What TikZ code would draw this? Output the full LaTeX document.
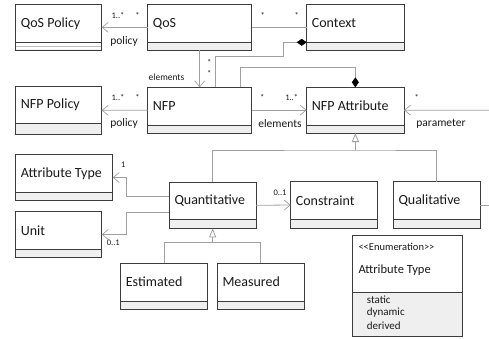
\documentclass[tikz,border=0pt]{standalone}
\usepackage{fontspec}
\setmainfont{Carlito}
\usetikzlibrary{arrows.meta,calc}
\definecolor{boxln}{HTML}{3C3C3C}
\definecolor{compfill}{HTML}{EFEFEF}
\definecolor{connc}{HTML}{A0A0A0}
\definecolor{txt}{HTML}{1A1A1A}
\tikzset{
  clsbox/.style={draw=boxln, line width=1pt, inner sep=0pt, outer sep=0pt},
  clsname/.style={font=\fontsize{14}{16}\selectfont, text=txt, inner sep=0pt, anchor=west},
  conn/.style={draw=connc, line width=0.8pt},
  navarrow/.style={conn, -{Straight Barb[length=6pt,width=10pt,line width=0.7pt]}},
  genarrow/.style={conn, -{Triangle[open,length=9pt,width=7pt,fill=white]}},
  comparrow/.style={conn, -{Diamond[length=10pt,width=7pt,color=black,fill=black]}},
  mult/.style={font=\fontsize{8.5}{10}\selectfont, text=txt, inner sep=0pt},
  role/.style={font=\fontsize{11.5}{13}\selectfont, text=txt, inner sep=0pt},
  enumtxt/.style={font=\fontsize{11}{13}\selectfont, text=txt, inner sep=0pt, anchor=west},
}
\newcommand\umlcls[7]{%
  \fill[compfill] (#2,#6) rectangle (#4,#5);
  \draw[boxln, line width=1pt] (#2,#6) -- (#4,#6);
  \node[clsbox, minimum width={(#4)-(#2)}, minimum height={(#5)-(#3)}, anchor=north west] (#1) at (#2,#3) {};
  \node[clsname] (#1-name) at ({#2+5},{(#3+#6)/2}) {#7};
}
\begin{document}
\begin{tikzpicture}[x=1pt, y=-1pt]
\useasboundingbox (0,0) rectangle (489,338);
\fill[white] (0,0) rectangle (489,338);

% classes
\umlcls{qospol}{15.7}{4.7}{101.7}{50}{42.3}{QoS Policy}
\fill[white] (16.3,42.9) rectangle (101.1,49.4);
\draw[connc!70, line width=0.8pt] (16.3,46.2) -- (101.1,46.2);
\umlcls{qos}{147.7}{4.7}{251.7}{50}{42.3}{QoS}
\umlcls{ctx}{306.7}{4.7}{404}{50}{42.3}{Context}
\umlcls{nfppol}{15.7}{86}{101.7}{134.7}{123.3}{NFP Policy}
\umlcls{nfp}{147.7}{87.3}{251.7}{133}{125}{NFP}
\umlcls{nfpattr}{306.7}{87.3}{404}{133}{125}{NFP Attribute}
\umlcls{attrtype}{15.7}{154.3}{112.7}{200.7}{192.3}{Attribute Type}
\umlcls{unit}{15.7}{211.7}{101.7}{257.3}{249.3}{Unit}
\umlcls{quant}{169.3}{182.3}{256}{228.3}{219.3}{Quantitative}
\umlcls{constr}{290.7}{181.7}{377.3}{228.3}{219.3}{Constraint}
\umlcls{qual}{393.3}{181.7}{480}{228.3}{219.3}{Qualitative}
\umlcls{est}{120.7}{263.3}{207.3}{309}{301}{Estimated}
\umlcls{meas}{217.3}{263.3}{304}{309}{301}{Measured}

% enumeration
\fill[compfill] (352.7,292.7) rectangle (462.7,336.7);
\draw[boxln, line width=1pt] (352.7,292.7) -- (462.7,292.7);
\node[clsbox, minimum width=110pt, minimum height=101.7pt, anchor=north west] (enum) at (352.7,235) {};
\node[enumtxt, font=\fontsize{10.5}{12}\selectfont] (enum-st) at (358.3,246.7) {<{}<Enumeration>{}>};
\node[enumtxt, font=\fontsize{12.5}{14}\selectfont] (enum-name) at (358.3,270) {Attribute Type};
\node[enumtxt] (enum-l1) at (366.7,299.5) {static};
\node[enumtxt] (enum-l2) at (366.7,312.5) {dynamic};
\node[enumtxt] (enum-l3) at (366.7,325.5) {derived};

% free ends
\coordinate (pin) at (489,110.2);
\coordinate (qout) at (489,205);
\coordinate (g1) at ([yshift=-17pt]nfpattr.south);
\coordinate (g2) at ([yshift=-14pt]quant.south);

% associations
\draw[navarrow] (qos.west) -- (qospol.east);
\draw[conn] (qos.east) -- (ctx.west);
\draw[navarrow] (qos.south) -- (nfp.north);
\draw[comparrow] ([xshift=15.3pt]nfp.north) |- (283.3,56) |- ([yshift=7.7pt]ctx.south west);
\draw[comparrow] ([xshift=40.3pt]nfp.north) |- ([yshift=20.3pt]nfpattr.north) -- (nfpattr.north);
\draw[navarrow] (nfp.west) -- (nfppol.east);
\draw[navarrow] (nfp.east) -- (nfpattr.west);
\draw[navarrow] (pin) -- (nfpattr.east);
\draw[conn] (quant.north) |- (g1) -| (qual.north);
\draw[genarrow] (g1) -- (nfpattr.south);
\draw[navarrow] ([yshift=9.3pt]quant.west) -| ([xshift=14pt]attrtype.east) -- (attrtype.east);
\draw[navarrow] ([yshift=-7pt]quant.west) -| ([xshift=25pt]unit.east) -- (unit.east);
\draw[navarrow] (quant.east) -- (constr.west);
\draw[conn] (qual.east) -- (qout);
\draw[conn] (est.north) |- (g2) -| (meas.north);
\draw[genarrow] (g2) -- (quant.south);

% labels
\node[mult] (m1) at (118,15.5) {1..*};
\node[mult] (m2) at (137.5,15.5) {*};
\node[role] (r1) at (124,41.5) {policy};
\node[mult] (m3) at (262.7,15.5) {*};
\node[mult] (m4) at (296.7,15.5) {*};
\node[mult] (m5) at (209.3,62) {*};
\node[mult] (m6) at (209.3,73.5) {*};
\node[role, font=\fontsize{9.5}{11}\selectfont] (r2) at (166.5,77.7) {elements};
\node[mult] (m7) at (118,97.5) {1..*};
\node[mult] (m8) at (137.5,97.5) {*};
\node[role] (r3) at (124,123.5) {policy};
\node[mult] (m9) at (262.3,97.5) {*};
\node[mult] (m10) at (291.7,97.5) {1..*};
\node[role] (r4) at (280,123.3) {elements};
\node[mult] (m11) at (416.7,97.5) {*};
\node[role] (r5) at (441,123.3) {parameter};
\node[mult] (m12) at (123.3,165) {1};
\node[mult] (m13) at (113.3,242.7) {0..1};
\node[mult] (m14) at (280,192.7) {0..1};
\end{tikzpicture}
\end{document}
